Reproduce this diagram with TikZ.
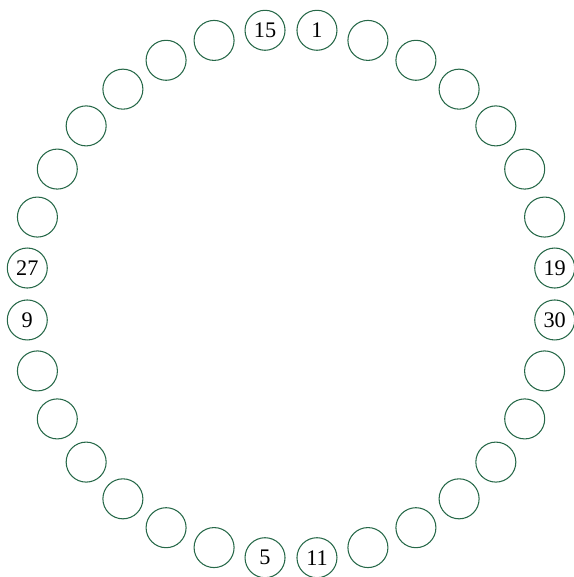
\documentclass[tikz,border=0pt]{standalone}
\usepackage{fontspec}
\setmainfont{Liberation Serif}
\definecolor{ringgreen}{RGB}{38,104,72}
\tikzset{
  seat/.style={circle, draw=ringgreen, line width=0.9pt, minimum size=12mm,
    inner sep=0pt, font=\fontsize{19}{19}\selectfont}
}
\begin{document}
\begin{tikzpicture}[x=0.3mm, y=0.3mm]
  \def\R{265} % ring radius
  \useasboundingbox (-291,-283) rectangle (282,294);
  % 32 seats, 11.25 deg apart, starting just above east
  \foreach \t [count=\i from 0] in {19,{},{},{},{},{},{},1,15,{},{},{},{},{},{},27,9,{},{},{},{},{},{},5,11,{},{},{},{},{},{},30}
    \node[seat] (s\i) at ({5.625+11.25*\i}:\R) {\t};
\end{tikzpicture}
\end{document}
